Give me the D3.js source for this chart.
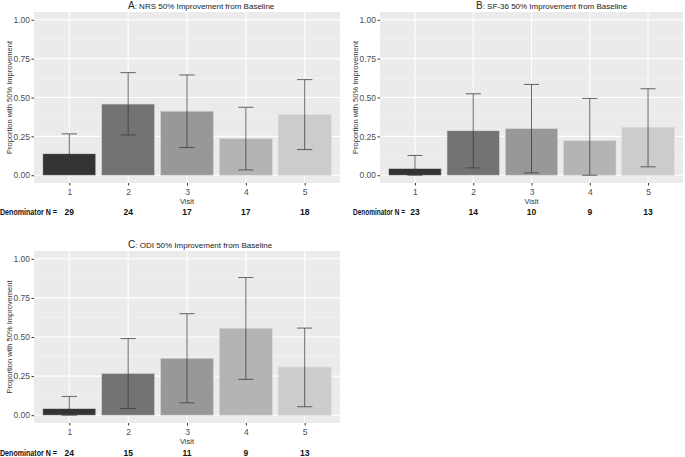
<!DOCTYPE html>
<html>
<head>
<meta charset="utf-8">
<script src="https://cdn.jsdelivr.net/npm/d3@7"></script>
<style>
  body { margin: 0; background: #fff; }
  svg { display: block; font-family: "Liberation Sans", Arial, sans-serif; }
</style>
</head>
<body>
<script>
// datos
const visits = ["1", "2", "3", "4", "5"];
const greys = ["#333333", "#737373", "#989898", "#b4b4b4", "#cccccc"];

const nrsProp = [0.138, 0.458, 0.412, 0.235, 0.389];
const nrsLow  = [0.015, 0.259, 0.178, 0.034, 0.165];
const nrsHigh = [0.266, 0.660, 0.645, 0.437, 0.615];
const nrsN    = [29, 24, 17, 17, 18];

const sfProp = [0.043, 0.286, 0.300, 0.222, 0.308];
const sfLow  = [0.000, 0.047, 0.015, 0.000, 0.054];
const sfHigh = [0.127, 0.524, 0.584, 0.494, 0.556];
const sfN    = [23, 14, 10, 9, 13];

const odiProp = [0.042, 0.267, 0.364, 0.556, 0.308];
const odiLow  = [0.000, 0.043, 0.079, 0.229, 0.054];
const odiHigh = [0.120, 0.490, 0.649, 0.880, 0.557];
const odiN    = [24, 15, 11, 9, 13];

const yTicks = [0, 0.25, 0.5, 0.75, 1];

var svg = d3.select("body").append("svg")
    .attr("width", 685)
    .attr("height", 457);

function panel(p) {
    var x = d3.scalePoint()
        .domain(visits)
        .range([p.left, p.right])
        .padding(0.6);
    var step = x.step();
    var y = d3.scaleLinear()
        .domain([-0.05, 1.05])
        .range([p.bottom, p.top]);

    var g = svg.append("g");

    // fondo del panel
    g.append("rect")
        .attr("x", p.left).attr("y", p.top)
        .attr("width", p.right - p.left).attr("height", p.bottom - p.top)
        .attr("fill", "#ebebeb");

    // rejilla menor
    g.selectAll(".minor").data([0.125, 0.375, 0.625, 0.875]).enter()
        .append("line")
        .attr("x1", p.left).attr("x2", p.right)
        .attr("y1", d => y(d)).attr("y2", d => y(d))
        .attr("stroke", "#f7f7f7").attr("stroke-width", 0.6);

    // rejilla mayor
    g.selectAll(".hmajor").data(yTicks).enter()
        .append("line")
        .attr("x1", p.left).attr("x2", p.right)
        .attr("y1", d => y(d)).attr("y2", d => y(d))
        .attr("stroke", "#fff").attr("stroke-width", 1.1);
    g.selectAll(".vmajor").data(visits).enter()
        .append("line")
        .attr("x1", d => x(d)).attr("x2", d => x(d))
        .attr("y1", p.top).attr("y2", p.bottom)
        .attr("stroke", "#fff").attr("stroke-width", 1.1);

    // barras
    g.selectAll(".bar").data(visits).enter()
        .append("rect")
        .attr("x", d => x(d) - step * 0.45)
        .attr("width", step * 0.9)
        .attr("y", (d, i) => y(p.prop[i]))
        .attr("height", (d, i) => y(0) - y(p.prop[i]))
        .attr("fill", (d, i) => greys[i])
        .attr("stroke", "#d9d9d9")
        .attr("stroke-width", 0.6);

    // barras de error
    var cap = step * 0.13;
    var eb = g.selectAll(".err").data(visits).enter().append("g")
        .attr("stroke", "#3a3a3a").attr("stroke-opacity", 0.85).attr("stroke-width", 0.9);
    eb.append("line")
        .attr("x1", d => x(d)).attr("x2", d => x(d))
        .attr("y1", (d, i) => y(p.low[i])).attr("y2", (d, i) => y(p.high[i]));
    eb.append("line")
        .attr("x1", d => x(d) - cap).attr("x2", d => x(d) + cap)
        .attr("y1", (d, i) => y(p.high[i])).attr("y2", (d, i) => y(p.high[i]));
    eb.append("line")
        .attr("x1", d => x(d) - cap).attr("x2", d => x(d) + cap)
        .attr("y1", (d, i) => y(p.low[i])).attr("y2", (d, i) => y(p.low[i]));

    // EJE Y
    var ay = g.append("g")
        .attr("transform", "translate(" + p.left + ",0)")
        .call(d3.axisLeft(y).tickValues(yTicks).tickFormat(d3.format(".2f")).tickSize(2.5).tickPadding(1.5));
    ay.select(".domain").remove();
    ay.selectAll("line").attr("stroke", "#333");
    ay.selectAll("text").attr("fill", "#4d4d4d").style("font-size", "8.5px");

    // EJE X
    var ax = g.append("g")
        .attr("transform", "translate(0," + p.bottom + ")")
        .call(d3.axisBottom(x).tickSize(2.5).tickPadding(3.5));
    ax.select(".domain").remove();
    ax.selectAll("line").attr("stroke", "#333");
    ax.selectAll("text").attr("fill", "#4d4d4d").style("font-size", "8.5px");

    g.append("text")
        .attr("x", (p.left + p.right) / 2)
        .attr("y", p.bottom + 20.5)
        .attr("text-anchor", "middle")
        .style("font-size", "7.5px")
        .attr("fill", "#333")
        .text("Visit");

    g.append("text")
        .attr("transform", "translate(" + (p.left - 22) + "," + ((p.top + p.bottom) / 2) + ") rotate(-90)")
        .attr("text-anchor", "middle")
        .style("font-size", "7.5px")
        .attr("fill", "#333")
        .text("Proportion with 50% Improvement");

    // titulo
    var t = g.append("text")
        .attr("x", p.titleX)
        .attr("y", p.top - 3)
        .attr("fill", "#222");
    t.append("tspan").style("font-size", "10px").text(p.letter);
    t.append("tspan").style("font-size", "8px").text(": " + p.title);

    // fila de denominadores (texto estrechado para que quepa antes del primer valor)
    var lab = g.append("text")
        .style("font-size", "8.5px").style("font-weight", "bold")
        .attr("fill", "#111")
        .text("Denominator N =");
    var natural = lab.node().getComputedTextLength();
    lab.attr("transform", "translate(" + p.denomX + "," + (p.bottom + p.denomDy) + ") scale(" + (p.denomW / natural) + ",1)");

    g.selectAll(".den").data(visits).enter()
        .append("text")
        .attr("x", d => x(d))
        .attr("y", p.bottom + p.denomDy)
        .attr("text-anchor", "middle")
        .style("font-size", "8.5px").style("font-weight", "bold")
        .attr("fill", "#111")
        .text((d, i) => p.n[i]);
}

panel({ left: 34, right: 340, top: 12, bottom: 183, letter: "A", title: "NRS 50% Improvement from Baseline",
        titleX: 128, denomX: 0, denomW: 57, denomDy: 31.5, prop: nrsProp, low: nrsLow, high: nrsHigh, n: nrsN });
panel({ left: 380, right: 683, top: 12, bottom: 183, letter: "B", title: "SF-36 50% Improvement from Baseline",
        titleX: 476, denomX: 353, denomW: 52, denomDy: 31.5, prop: sfProp, low: sfLow, high: sfHigh, n: sfN });
panel({ left: 34, right: 340, top: 251, bottom: 423, letter: "C", title: "ODI 50% Improvement from Baseline",
        titleX: 128, denomX: 0, denomW: 57, denomDy: 33, prop: odiProp, low: odiLow, high: odiHigh, n: odiN });
</script>
</body>
</html>
